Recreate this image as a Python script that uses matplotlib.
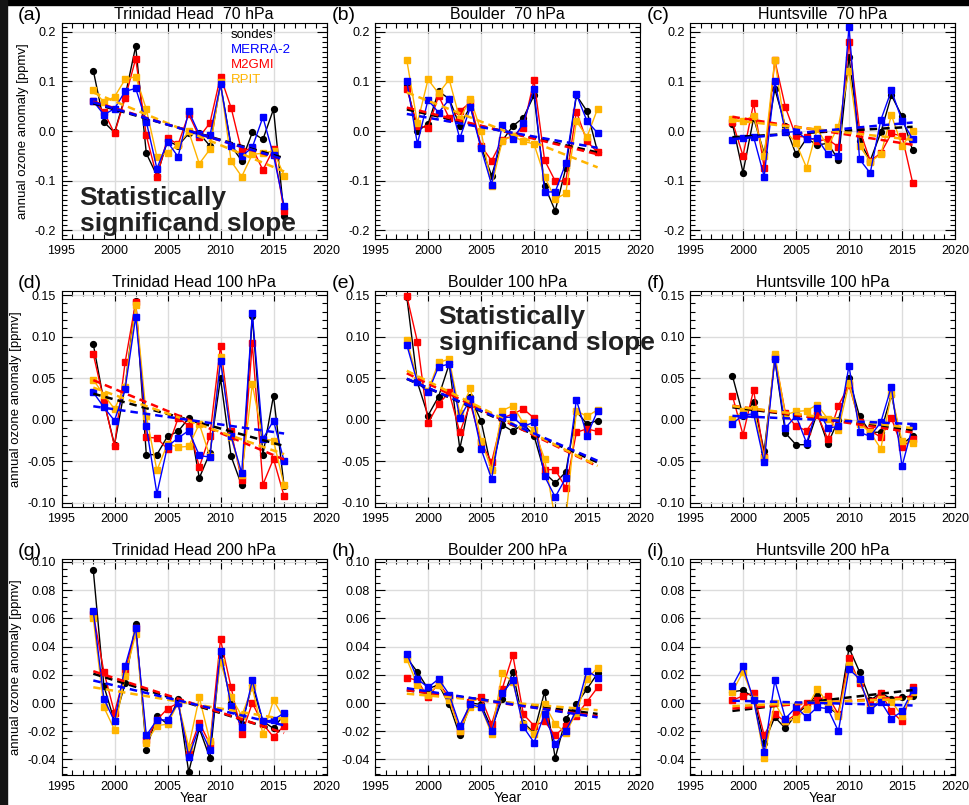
import numpy as np
import matplotlib.pyplot as plt
from matplotlib.ticker import MultipleLocator, FormatStrFormatter
from matplotlib.patches import Rectangle

plt.rcParams['font.family'] = ['Liberation Sans', 'DejaVu Sans']
plt.rcParams['axes.unicode_minus'] = False

years_th = np.arange(1998, 2017)   # Trinidad Head
years_bo = np.arange(1998, 2017)   # Boulder
years_hv = np.arange(1999, 2017)   # Huntsville

names = ['sondes', 'MERRA-2', 'M2GMI', 'RPIT']
colors = ['black', '#0000ff', '#ff0000', '#ffb400']

# (a) Trinidad Head 70 hPa
th70_sondes = [0.122, 0.018, -0.003, 0.07, 0.171, -0.045, -0.09, -0.02, -0.03, -0.005, -0.005, -0.03, 0.095, -0.03, -0.06, -0.003, -0.017, 0.044, -0.171]
th70_merra = [0.06, 0.033, 0.045, 0.08, 0.086, 0.019, -0.076, -0.022, -0.052, 0.04, -0.007, -0.009, 0.094, -0.031, -0.051, -0.033, 0.028, -0.049, -0.151]
th70_m2gmi = [0.06, 0.039, -0.005, 0.066, 0.146, -0.009, -0.093, -0.014, -0.027, 0.034, -0.012, 0.016, 0.11, 0.047, -0.041, -0.034, -0.079, -0.036, -0.161]
th70_rpit = [0.083, 0.058, 0.069, 0.104, 0.11, 0.044, -0.052, -0.044, -0.028, -0.001, -0.066, -0.037, 0.098, -0.061, -0.092, -0.047, -0.045, -0.04, -0.09]

# (b) Boulder 70 hPa
bo70_sondes = [0.093, 0.0, 0.014, 0.08, 0.065, 0.01, 0.05, -0.031, -0.09, -0.02, 0.01, 0.027, 0.072, -0.111, -0.161, -0.075, 0.072, 0.04, -0.042]
bo70_merra = [0.1, -0.026, 0.063, 0.037, 0.064, -0.015, 0.048, -0.035, -0.108, 0.013, -0.017, 0.016, 0.085, -0.123, -0.123, -0.065, 0.074, 0.02, -0.004]
bo70_m2gmi = [0.085, 0.011, 0.006, 0.071, 0.026, 0.04, 0.058, -0.03, -0.06, -0.018, -0.01, 0.007, 0.102, -0.059, -0.101, -0.101, 0.039, -0.021, -0.043]
bo70_rpit = [0.143, 0.016, 0.104, 0.076, 0.104, 0.024, 0.065, 0.0, -0.111, -0.02, -0.01, -0.021, -0.026, -0.092, -0.137, -0.126, 0.02, -0.012, 0.045]

# (c) Huntsville 70 hPa
hv70_sondes = [0.015, -0.084, 0.026, -0.045, 0.085, 0.01, -0.047, -0.015, -0.028, -0.025, -0.058, 0.15, -0.02, -0.06, -0.003, 0.072, 0.03, -0.039]
hv70_merra = [-0.018, -0.014, -0.012, -0.092, 0.1, -0.003, -0.001, -0.016, -0.015, -0.047, -0.051, 0.21, -0.057, -0.085, 0.022, 0.082, 0.021, -0.016]
hv70_m2gmi = [0.019, -0.05, 0.056, -0.074, 0.143, 0.048, -0.011, -0.012, -0.02, -0.017, -0.032, 0.18, 0.002, -0.06, -0.045, -0.005, -0.01, -0.104]
hv70_rpit = [0.024, 0.02, 0.031, -0.05, 0.144, 0.0, -0.024, -0.074, 0.004, -0.031, 0.009, 0.122, -0.03, -0.062, -0.047, 0.032, -0.03, -0.001]

# (d) Trinidad Head 100 hPa
th100_sondes = [0.091, 0.022, -0.03, 0.04, 0.143, -0.042, -0.042, -0.02, -0.014, 0.002, -0.07, -0.04, 0.05, -0.044, -0.079, 0.125, -0.042, 0.029, -0.08]
th100_merra = [0.033, 0.015, -0.001, 0.037, 0.124, -0.008, -0.089, -0.032, -0.022, -0.013, -0.043, -0.045, 0.071, -0.02, -0.064, 0.128, -0.023, -0.001, -0.05]
th100_m2gmi = [0.079, 0.023, -0.032, 0.069, 0.142, -0.021, -0.022, -0.035, 0.002, -0.007, -0.057, -0.019, 0.089, -0.014, -0.073, 0.092, -0.078, -0.047, -0.092]
th100_rpit = [0.048, 0.03, 0.013, 0.04, 0.138, 0.005, -0.061, -0.029, -0.033, -0.032, -0.005, -0.044, 0.076, -0.021, -0.067, 0.043, -0.023, -0.025, -0.079]

# (e) Boulder 100 hPa
bo100_sondes = [0.148, 0.045, 0.005, 0.028, 0.067, -0.035, 0.027, -0.001, -0.06, -0.006, -0.014, -0.005, -0.019, -0.064, -0.076, -0.063, 0.01, -0.005, -0.001]
bo100_merra = [0.09, 0.045, 0.033, 0.064, 0.067, 0.002, 0.025, -0.035, -0.071, 0.003, 0.003, -0.008, -0.003, -0.068, -0.093, -0.07, 0.024, -0.019, 0.011]
bo100_m2gmi = [0.149, 0.094, -0.004, 0.019, 0.033, -0.015, 0.019, -0.027, -0.051, 0.002, 0.007, 0.013, 0.002, -0.06, -0.06, -0.082, -0.015, -0.011, -0.014]
bo100_rpit = [0.096, 0.048, 0.035, 0.069, 0.073, 0.008, 0.038, -0.025, -0.06, 0.011, 0.017, -0.004, -0.012, -0.047, -0.12, -0.12, 0.011, 0.004, 0.012]

# (f) Huntsville 100 hPa
hv100_sondes = [0.053, 0.005, 0.021, -0.038, 0.073, -0.016, -0.03, -0.03, 0.008, -0.029, 0.0, 0.05, 0.004, -0.015, -0.015, 0.03, -0.03, -0.019]
hv100_merra = [-0.005, 0.006, 0.007, -0.051, 0.073, -0.01, 0.005, -0.028, 0.014, -0.01, -0.008, 0.065, -0.015, -0.02, -0.003, 0.04, -0.056, -0.008]
hv100_m2gmi = [0.029, -0.018, 0.036, -0.045, 0.075, 0.008, -0.008, -0.013, 0.006, -0.023, 0.017, 0.042, -0.003, -0.013, -0.021, 0.002, -0.033, -0.023]
hv100_rpit = [0.001, 0.01, 0.013, -0.046, 0.079, 0.006, 0.01, 0.011, 0.018, 0.001, -0.012, 0.044, -0.005, -0.015, -0.035, 0.031, -0.026, -0.028]

# (g) Trinidad Head 200 hPa
th200_sondes = [0.094, 0.012, -0.013, 0.014, 0.056, -0.033, -0.009, -0.015, 0.003, -0.049, -0.018, -0.039, 0.035, 0.0, -0.015, 0.013, -0.013, -0.018, -0.008]
th200_merra = [0.065, 0.003, -0.013, 0.026, 0.053, -0.023, -0.012, -0.012, 0.0, -0.038, -0.017, -0.033, 0.037, -0.002, -0.017, 0.016, -0.013, -0.012, -0.007]
th200_m2gmi = [0.063, 0.022, -0.007, 0.022, 0.053, -0.026, -0.012, -0.004, 0.0, -0.035, -0.014, -0.029, 0.045, 0.011, -0.022, 0.0, -0.015, -0.024, -0.016]
th200_rpit = [0.06, -0.003, -0.019, 0.019, 0.049, -0.028, -0.016, -0.015, 0.0, -0.031, 0.004, -0.027, 0.029, 0.004, -0.009, 0.011, -0.022, 0.002, -0.011]

# (h) Boulder 200 hPa
bo200_sondes = [0.032, 0.022, 0.01, 0.013, -0.001, -0.023, 0.0, -0.001, -0.018, 0.003, 0.022, -0.014, -0.021, 0.008, -0.039, -0.011, -0.001, 0.01, 0.021]
bo200_merra = [0.035, 0.017, 0.011, 0.017, 0.006, -0.016, -0.001, -0.003, -0.02, 0.007, 0.016, -0.017, -0.028, -0.008, -0.029, -0.02, -0.005, 0.023, 0.018]
bo200_m2gmi = [0.018, 0.016, 0.004, 0.014, 0.004, -0.02, 0.001, 0.004, -0.015, 0.01, 0.034, -0.008, -0.016, -0.013, -0.023, -0.016, -0.009, 0.001, 0.011]
bo200_rpit = [0.031, 0.013, 0.006, 0.013, 0.002, -0.02, -0.003, -0.003, -0.022, 0.021, 0.015, -0.015, -0.022, -0.001, -0.015, -0.021, -0.007, 0.017, 0.025]

# (i) Huntsville 200 hPa
hv200_sondes = [0.008, 0.009, 0.004, -0.028, -0.01, -0.018, -0.008, -0.002, 0.006, -0.003, -0.008, 0.039, 0.022, 0.002, 0.007, 0.003, 0.004, 0.005]
hv200_merra = [0.012, 0.026, 0.002, -0.035, 0.016, -0.011, -0.003, -0.01, -0.003, -0.004, -0.02, 0.024, 0.017, -0.005, 0.001, -0.011, -0.006, 0.009]
hv200_m2gmi = [0.002, 0.005, 0.007, -0.023, -0.008, -0.013, -0.008, 0.0, 0.002, 0.005, -0.008, 0.032, 0.014, -0.001, 0.007, -0.006, -0.013, 0.011]
hv200_rpit = [0.008, 0.022, 0.003, -0.039, 0.0, -0.013, -0.011, -0.004, 0.01, 0.0, -0.009, 0.027, 0.016, -0.004, 0.003, 0.001, -0.009, 0.008]

panels = [
    ('(a)', 'Trinidad Head  70 hPa', years_th, [th70_sondes, th70_merra, th70_m2gmi, th70_rpit]),
    ('(b)', 'Boulder  70 hPa', years_bo, [bo70_sondes, bo70_merra, bo70_m2gmi, bo70_rpit]),
    ('(c)', 'Huntsville  70 hPa', years_hv, [hv70_sondes, hv70_merra, hv70_m2gmi, hv70_rpit]),
    ('(d)', 'Trinidad Head 100 hPa', years_th, [th100_sondes, th100_merra, th100_m2gmi, th100_rpit]),
    ('(e)', 'Boulder 100 hPa', years_bo, [bo100_sondes, bo100_merra, bo100_m2gmi, bo100_rpit]),
    ('(f)', 'Huntsville 100 hPa', years_hv, [hv100_sondes, hv100_merra, hv100_m2gmi, hv100_rpit]),
    ('(g)', 'Trinidad Head 200 hPa', years_th, [th200_sondes, th200_merra, th200_m2gmi, th200_rpit]),
    ('(h)', 'Boulder 200 hPa', years_bo, [bo200_sondes, bo200_merra, bo200_m2gmi, bo200_rpit]),
    ('(i)', 'Huntsville 200 hPa', years_hv, [hv200_sondes, hv200_merra, hv200_m2gmi, hv200_rpit]),
]

# per row: ylim, major, minor, tick format
rows = [((-0.218, 0.218), 0.1, 0.01, '%.1f'),
        ((-0.105, 0.155), 0.05, 0.01, '%.2f'),
        ((-0.051, 0.102), 0.02, 0.005, '%.2f')]

W, H = 969, 805
fig = plt.figure(figsize=(W / 100, H / 100), dpi=100)
# dark frame strips from the screenshot
fig.patches.append(Rectangle((0, 1 - 5 / H), 1, 5 / H, transform=fig.transFigure, color='black', zorder=0))
fig.patches.append(Rectangle((0, 0), 7 / W, 1, transform=fig.transFigure, color='#141414', zorder=0))

lefts = [61.5, 375, 690]
bottoms = [239, 507, 775]
aw, ah = 265, 216

draw_order = [0, 2, 3, 1]  # sondes, M2GMI, RPIT, MERRA-2 on top
axes = []
for k, (lab, title, yrs, series) in enumerate(panels):
    r, c = divmod(k, 3)
    ax = fig.add_axes([lefts[c] / W, 1 - bottoms[r] / H, aw / W, ah / H])
    axes.append(ax)
    ylim, major, minor, fmt = rows[r]

    for i in draw_order:
        mk = 'o' if i == 0 else 's'
        ms = 4.2 if i == 0 else 5
        ax.plot(yrs, series[i], color=colors[i], lw=1.0, marker=mk, ms=ms, zorder=2)
    for i in draw_order:
        p = np.polyfit(yrs, series[i], 1)
        xx = np.array([yrs[0], yrs[-1]])
        ax.plot(xx, np.polyval(p, xx), color=colors[i], lw=1.8, ls='--', dashes=(3, 2), zorder=3)

    ax.set_xlim(1995, 2020)
    ax.set_ylim(*ylim)
    ax.xaxis.set_major_locator(MultipleLocator(5))
    ax.xaxis.set_minor_locator(MultipleLocator(1))
    ax.yaxis.set_major_locator(MultipleLocator(major))
    ax.yaxis.set_minor_locator(MultipleLocator(minor))
    ax.yaxis.set_major_formatter(FormatStrFormatter(fmt))
    ax.tick_params(which='both', direction='in', top=True, right=True, width=0.8, labelsize=9, pad=4)
    ax.tick_params(which='major', length=7)
    ax.tick_params(which='minor', length=3.5)
    ax.grid(True, which='major', color='#dcdcdc', lw=1.0)
    ax.set_axisbelow(True)
    for s in ax.spines.values():
        s.set_linewidth(0.8)
    ax.set_title(title, fontsize=11.5, pad=3)
    ax.text(-0.165, 1.035, lab, transform=ax.transAxes, fontsize=14, ha='left', va='center')
    if c == 0:
        ax.set_ylabel('annual ozone anomaly [ppmv]', fontsize=9.5, labelpad=4)
    if r == 2:
        ax.set_xlabel('Year', fontsize=10, labelpad=-1)

# legend as coloured text in panel (a)
for i, nm in enumerate(names):
    axes[0].text(0.64, 0.945 - i * 0.07, nm, color=colors[i], fontsize=9.5,
                 transform=axes[0].transAxes, va='center', ha='left')

note = 'Statistically\nsignificand slope'
axes[0].text(0.068, 0.13, note, transform=axes[0].transAxes, fontsize=19, fontweight='bold',
             color='#222222', va='center', ha='left', linespacing=1.12, zorder=5)
axes[4].text(0.24, 0.82, note, transform=axes[4].transAxes, fontsize=19, fontweight='bold',
             color='#222222', va='center', ha='left', linespacing=1.12, zorder=5)

plt.savefig('out.png', dpi=100)
